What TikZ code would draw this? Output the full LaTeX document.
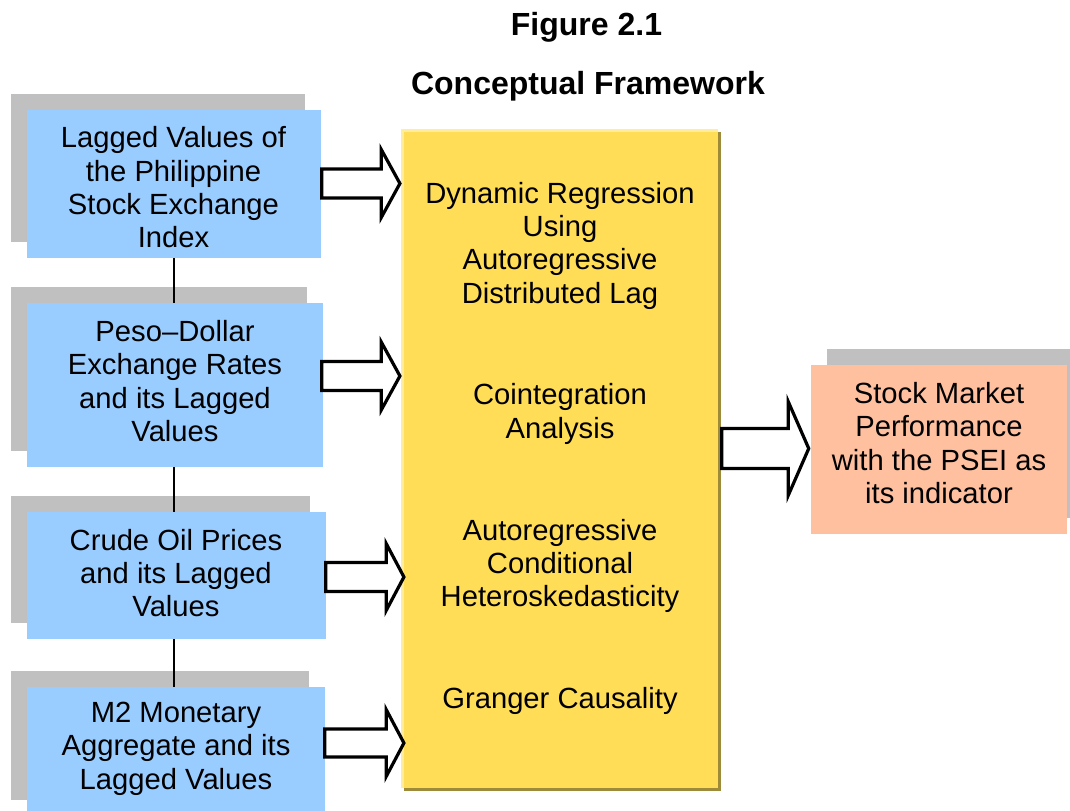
\documentclass[tikz,border=0pt]{standalone}
\usepackage{fontspec}
\setmainfont{Liberation Sans}
\usetikzlibrary{calc,shadows}

\definecolor{boxblue}{HTML}{99CCFF}
\definecolor{shadegray}{HTML}{C0C0C0}
\definecolor{coreyellow}{HTML}{FFDD57}
\definecolor{corelight}{HTML}{FFEC9C}
\definecolor{coreshade}{HTML}{9E8B3A}
\definecolor{outsalmon}{HTML}{FFC0A0}

% hollow block arrow: #1 tail, #2 tip, #3 half body width, #4 half head width, #5 head length
\newcommand\blockarrow[5]{%
  \draw[blockarr] let \p1=(#1), \p2=(#2) in
    (\x1,\y1+#3) -- (\x2-#5,\y1+#3) -- (\x2-#5,\y1+#4) -- (\x2,\y1)
    -- (\x2-#5,\y1-#4) -- (\x2-#5,\y1-#3) -- (\x1,\y1-#3) -- cycle;}

\begin{document}
\begin{tikzpicture}[x=0.75pt,y=-0.75pt,
  bodytext/.style={font=\fontsize{21.9}{25}\selectfont, align=center, inner sep=0pt},
  titletext/.style={font=\fontsize{24}{28}\selectfont\bfseries, anchor=base, inner sep=0pt},
  inbox/.style={rectangle, fill=boxblue, inner sep=0pt,
    general shadow={fill=shadegray, shadow xshift=-12pt, shadow yshift=12pt}},
  outbox/.style={rectangle, fill=outsalmon, inner sep=0pt,
    general shadow={fill=shadegray, shadow xshift=12pt, shadow yshift=12pt}},
  corebox/.style={rectangle, fill=coreyellow, inner sep=0pt,
    general shadow={fill=coreshade, shadow xshift=2.25pt, shadow yshift=-2.25pt}},
  blockarr/.style={draw=black, fill=white, line width=2.4pt, miter limit=10},
  link/.style={draw=black, line width=2.1pt}]

\useasboundingbox (0,0) rectangle (1070,810);
\fill[white] (0,0) rectangle (1070,810);

% title
\node[titletext] (fig) at (586.5,36) {Figure 2.1};
\node[titletext] (cap) at (588,94) {Conceptual Framework};

% input variables
\node[inbox, minimum width=220.5pt, minimum height=111pt] (b1) at (174,184) {};
\node[inbox, minimum width=222pt, minimum height=123pt] (b2) at (175,385) {};
\node[inbox, minimum width=224.25pt, minimum height=95.25pt] (b3) at (176.5,575.5) {};
\node[inbox, minimum width=223.5pt, minimum height=96.75pt] (b4) at (176,751.5) {};

% methods
\node[corebox, minimum width=237.75pt, minimum height=494.25pt] (core) at (559.5,458.5) {};
\draw[corelight, line width=2.25pt]
  ([shift={(1.5,0)}]core.south west) -- ([shift={(1.5,1.5)}]core.north west)
  -- ([shift={(0,1.5)}]core.north east);

% outcome
\node[outbox, minimum width=192pt, minimum height=126.75pt] (out) at (939,449.5) {};

% vertical links between the inputs
\draw[link] (b1.south) -- (b2.north -| b1.south);
\draw[link] (b2.south -| b1.south) -- (b3.north -| b1.south);
\draw[link] (b3.south -| b1.south) -- (b4.north -| b1.south);

% block arrows
\coordinate (a1s) at ($(b1.east)+(0.5,-0.5)$);
\coordinate (a1t) at ($(core.west |- a1s)+(-0.8,0)$);
\coordinate (a2s) at ($(b2.east)+(-1.5,-9)$);
\coordinate (a2t) at ($(core.west |- a2s)+(-0.8,0)$);
\coordinate (a3s) at ($(b3.east)+(-0.5,1.5)$);
\coordinate (a3t) at ($(core.west |- a3s)+(3.2,0)$);
\coordinate (a4s) at ($(b4.east)+(-0.5,-8.5)$);
\coordinate (a4t) at ($(core.west |- a4s)+(3.2,0)$);
\coordinate (ars) at ($(core.east)+(3.5,-10)$);
\coordinate (art) at ($(out.west |- ars)+(-2,0)$);

\blockarrow{a1s}{a1t}{10.9pt}{25.5pt}{14pt}
\blockarrow{a2s}{a2t}{10.9pt}{25.5pt}{14pt}
\blockarrow{a3s}{a3t}{10.9pt}{25.1pt}{13.3pt}
\blockarrow{a4s}{a4t}{10.5pt}{25.1pt}{13.3pt}
\blockarrow{ars}{art}{15pt}{35.25pt}{15.4pt}

% texts
\node[bodytext] (b1t) at (173.5,187.5) {Lagged Values of\\the Philippine\\Stock Exchange\\Index};
\node[bodytext] (b2t) at (175,381) {Peso–Dollar\\Exchange Rates\\and its Lagged\\Values};
\node[bodytext] (b3t) at (176,573) {Crude Oil Prices\\and its Lagged\\Values};
\node[bodytext] (b4t) at (176,748.5) {M2 Monetary\\Aggregate and its\\Lagged Values};

\node[bodytext] (m1) at (560,245.5) {Dynamic Regression\\Using\\Autoregressive\\Distributed Lag};
\node[bodytext] (m2) at (560,414) {Cointegration\\Analysis};
\node[bodytext] (m3) at (560,566) {Autoregressive\\Conditional\\Heteroskedasticity};
\node[bodytext] (m4) at (560,700.5) {Granger Causality};

\node[bodytext] (outt) at (939,443) {Stock Market\\Performance\\with the PSEI as\\its indicator};
\end{tikzpicture}
\end{document}
